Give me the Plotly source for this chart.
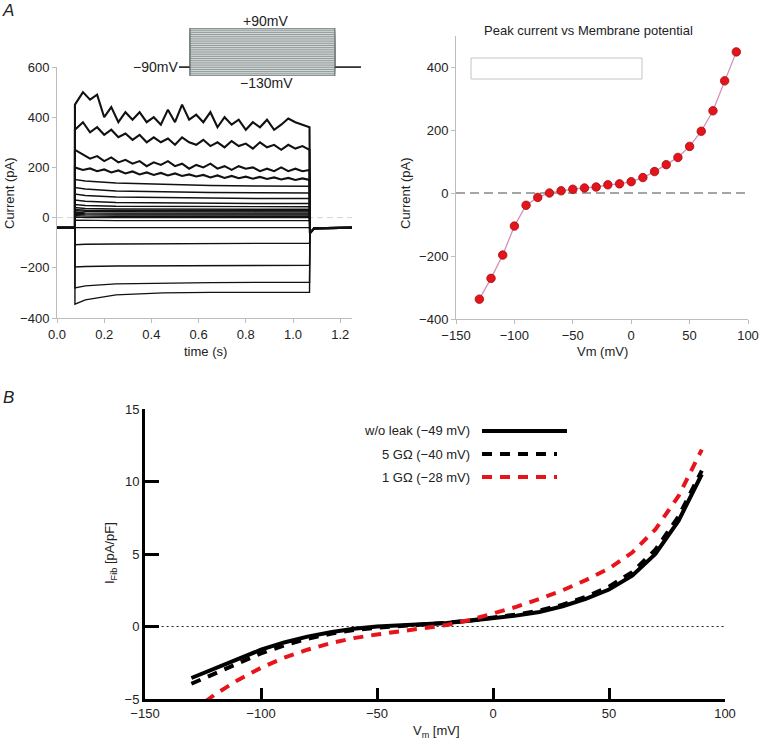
import numpy as np
import plotly.graph_objects as go

W, H = 760, 743
def px(x): return x / W
def py(y): return 1 - y / H

FONT = "Liberation Sans, Arial, sans-serif"

# ---------------- Panel A (left): current traces ----------------
step_mV = [-130, -120, -110, -100, -90, -80, -70, -60, -50, -40, -30, -20,
           -10, 0, 10, 20, 30, 40, 50, 60, 70, 80, 90]
hold_pA = -40
t_on, t_off, t_end = 0.076, 1.072, 1.25
tail_t = [1.072, 1.09, 1.25]
tail_pA = [-62, -43, -40]

t_coarse = [0.076, 0.12, 0.25, 0.45, 0.65, 0.85, 1.07]
coarse_pA = {
    -130: [-345, -328, -308, -300, -298, -298, -298],
    -120: [-280, -272, -264, -260, -259, -258, -258],
    -110: [-197, -195, -193, -192, -191, -190, -190],
    -100: [-108, -106, -105, -104, -103, -102, -102],
    -90: [-40, -40, -40, -40, -40, -40, -40],
    -80: [-10, -11, -12, -12, -12, -12, -12],
    -70: [2, 0, 0, 0, 0, 0, 0],
    -60: [8, 6, 5, 5, 5, 5, 5],
    -50: [14, 11, 10, 10, 10, 10, 10],
    -40: [18, 15, 14, 14, 14, 14, 14],
    -30: [22, 19, 18, 18, 18, 18, 18],
    -20: [28, 25, 24, 23, 23, 23, 23],
    -10: [32, 29, 28, 27, 27, 27, 27],
    0: [40, 36, 34, 33, 33, 33, 33],
    10: [52, 48, 45, 44, 43, 43, 43],
    20: [70, 65, 60, 58, 57, 56, 56],
    30: [94, 88, 82, 79, 77, 76, 76],
    40: [120, 114, 106, 102, 100, 99, 98],
    50: [152, 146, 138, 132, 128, 126, 125],
}

t_fine = [0.076, 0.11, 0.14, 0.17, 0.20, 0.23, 0.26, 0.29, 0.32, 0.35, 0.38,
          0.41, 0.44, 0.47, 0.50, 0.53, 0.56, 0.59, 0.62, 0.65, 0.68, 0.71,
          0.74, 0.77, 0.80, 0.83, 0.86, 0.89, 0.92, 0.95, 0.98, 1.01, 1.04, 1.07]
fine_pA = {
    60: [200, 190, 196, 185, 192, 180, 188, 176, 184, 172, 180, 170, 178, 168,
         176, 166, 172, 164, 170, 160, 168, 158, 166, 157, 163, 155, 162, 154,
         160, 152, 158, 150, 156, 150],
    70: [270, 250, 235, 245, 225, 240, 220, 230, 215, 225, 205, 220, 210, 225,
         205, 215, 195, 210, 200, 215, 195, 205, 190, 205, 195, 200, 185, 195,
         185, 200, 185, 195, 185, 190],
    80: [350, 380, 340, 360, 330, 350, 320, 335, 310, 330, 300, 320, 300, 315,
         290, 320, 300, 290, 310, 285, 300, 280, 305, 285, 295, 275, 300, 280,
         290, 270, 290, 275, 285, 270],
    90: [450, 500, 470, 490, 400, 440, 380, 420, 390, 420, 380, 400, 370, 430,
         380, 450, 390, 410, 380, 420, 360, 400, 370, 390, 350, 380, 360, 390,
         350, 370, 395, 380, 370, 360],
}

# ---------------- Panel A (right): I-V ----------------
iv_mV = [-130, -120, -110, -100, -90, -80, -70, -60, -50, -40, -30, -20,
         -10, 0, 10, 20, 30, 40, 50, 60, 70, 80, 90]
iv_pA = [-337, -271, -197, -105, -39, -14, 0, 7, 12, 16, 19, 26,
         29, 36, 49, 68, 90, 113, 148, 196, 261, 356, 448]

# ---------------- Panel B: model I-V ----------------
vm_B = [-130, -120, -110, -100, -90, -80, -70, -60, -50, -40, -30, -20,
        -10, 0, 10, 20, 30, 40, 50, 60, 70, 80, 90]
i_noleak = [-3.55, -2.9, -2.2, -1.6, -1.1, -0.7, -0.4, -0.15, 0.0, 0.07, 0.15,
            0.25, 0.4, 0.55, 0.75, 1.0, 1.4, 1.9, 2.55, 3.5, 5.0, 7.3, 10.5]
i_5G = [-3.95, -3.25, -2.5, -1.85, -1.3, -0.85, -0.5, -0.25, -0.08, 0.02, 0.12,
        0.25, 0.42, 0.6, 0.82, 1.1, 1.5, 2.05, 2.75, 3.75, 5.3, 7.6, 10.75]
i_1G = [-5.9, -4.7, -3.7, -2.85, -2.15, -1.6, -1.15, -0.8, -0.55, -0.35, -0.12,
        0.1, 0.45, 0.9, 1.35, 1.9, 2.5, 3.2, 4.0, 5.1, 6.7, 9.0, 12.2]
legend_B = ["w/o leak (\u221249 mV)", "5 G\u03a9 (\u221240 mV)", "1 G\u03a9 (\u221228 mV)"]

fig = go.Figure()

# left traces
for v in step_mV:
    if v in fine_pA:
        tt, vals, lw = t_fine, fine_pA[v], 2.1
    else:
        tt, vals, lw = t_coarse, coarse_pA[v], 1.4
    x = [0.0, t_on] + list(tt) + tail_t
    y = [hold_pA, hold_pA] + list(vals) + tail_pA
    fig.add_trace(go.Scatter(x=x, y=y, mode="lines", line=dict(color="#111", width=lw),
                             xaxis="x", yaxis="y", showlegend=False, hoverinfo="skip"))

# protocol inset
inset_t = [0.0, 0.075, 0.075, 1.07, 1.07, 1.25]
for v in step_mV:
    fig.add_trace(go.Scatter(x=inset_t, y=[-90, -90, v, v, -90, -90], mode="lines",
                             line=dict(color="#7d8886", width=0.8),
                             xaxis="x4", yaxis="y4", showlegend=False, hoverinfo="skip"))
fig.add_trace(go.Scatter(x=[0.0, 0.075, None, 1.07, 1.25], y=[-90, -90, None, -90, -90],
                         mode="lines", line=dict(color="#333", width=1.5),
                         xaxis="x4", yaxis="y4", showlegend=False, hoverinfo="skip"))

# right IV
fig.add_trace(go.Scatter(x=iv_mV, y=iv_pA, mode="lines+markers",
                         line=dict(color="#d58fb8", width=1.3),
                         marker=dict(color="#e3141b", size=8.5, line=dict(color="#a30d10", width=0.8)),
                         xaxis="x2", yaxis="y2", showlegend=False, hoverinfo="skip"))

# panel B curves
fig.add_trace(go.Scatter(x=vm_B, y=i_noleak, mode="lines", line=dict(color="black", width=4),
                         xaxis="x3", yaxis="y3", showlegend=False, hoverinfo="skip"))
fig.add_trace(go.Scatter(x=vm_B, y=i_5G, mode="lines", line=dict(color="black", width=4, dash="10px,8px"),
                         xaxis="x3", yaxis="y3", showlegend=False, hoverinfo="skip"))
fig.add_trace(go.Scatter(x=vm_B, y=i_1G, mode="lines", line=dict(color="#e8141b", width=4, dash="10px,8px"),
                         xaxis="x3", yaxis="y3", showlegend=False, hoverinfo="skip"))

tickfont = dict(family=FONT, size=13, color="#222")
grayax = dict(showline=True, linecolor="#bdbdbd", linewidth=1, ticks="outside",
              tickcolor="#bdbdbd", ticklen=4, showgrid=False, zeroline=False,
              tickfont=tickfont, automargin=False)
blackax = dict(showline=True, linecolor="black", linewidth=3, ticks="inside",
               tickcolor="black", tickwidth=3, showgrid=False, zeroline=False,
               tickfont=tickfont, automargin=False)

fig.update_layout(
    width=W, height=H, margin=dict(l=0, r=0, t=0, b=0, pad=0, autoexpand=False),
    paper_bgcolor="white", plot_bgcolor="rgba(0,0,0,0)",
    font=dict(family=FONT, size=13, color="#222"),
    xaxis=dict(domain=[px(57), px(352)], range=[0, 1.25], tickvals=[0, 0.2, 0.4, 0.6, 0.8, 1.0, 1.2],
               tickformat=".1f", anchor="y", **grayax),
    yaxis=dict(domain=[py(318), py(67)], range=[-400, 600], tickvals=[-400, -200, 0, 200, 400, 600],
               anchor="x", **grayax),
    xaxis2=dict(domain=[px(456), px(748)], range=[-150, 100], tickvals=[-150, -100, -50, 0, 50, 100],
                anchor="y2", **grayax),
    yaxis2=dict(domain=[py(319), py(35.5)], range=[-400, 500], tickvals=[-400, -200, 0, 200, 400],
                anchor="x2", **grayax),
    xaxis3=dict(domain=[px(145), px(725)], range=[-150, 100], tickvals=[-150, -100, -50, 0, 50, 100],
                ticklen=11, anchor="y3", **blackax),
    yaxis3=dict(domain=[py(699), py(409)], range=[-5, 15], tickvals=[-5, 0, 5, 10, 15],
                ticklen=14, anchor="x3", **blackax),
    xaxis4=dict(domain=[px(179), px(361)], range=[0, 1.25], visible=False, anchor="y4", automargin=False),
    yaxis4=dict(domain=[py(76), py(28)], range=[-130, 90], visible=False, anchor="x4", automargin=False),
)

shapes = [
    # inset box fill
    dict(type="rect", xref="x4", yref="y4", x0=0.075, x1=1.07, y0=-130, y1=90,
         fillcolor="#d3d9d8", line=dict(color="#5a6261", width=1), layer="below"),
    # zero lines
    dict(type="line", xref="x domain", yref="y", x0=0, x1=1, y0=0, y1=0,
         line=dict(color="#d4d4d4", width=1, dash="6px,4px"), layer="below"),
    dict(type="line", xref="x2 domain", yref="y2", x0=0, x1=1, y0=0, y1=0,
         line=dict(color="#888", width=1.3, dash="9px,5px"), layer="below"),
    dict(type="line", xref="x3 domain", yref="y3", x0=0.02, x1=1, y0=0, y1=0,
         line=dict(color="#222", width=1, dash="2px,3px"), layer="below"),
    # empty legend box in IV plot
    dict(type="rect", xref="paper", yref="paper", x0=px(471), x1=px(642), y0=py(79), y1=py(58),
         fillcolor="white", line=dict(color="#c4c4c4", width=1)),
    # panel B legend samples
    dict(type="line", xref="paper", yref="paper", x0=px(482), x1=px(567), y0=py(431), y1=py(431),
         line=dict(color="black", width=4)),
    dict(type="line", xref="paper", yref="paper", x0=px(482), x1=px(557), y0=py(454), y1=py(454),
         line=dict(color="black", width=4, dash="10px,8px")),
    dict(type="line", xref="paper", yref="paper", x0=px(482), x1=px(557), y0=py(477), y1=py(477),
         line=dict(color="#e8141b", width=4, dash="10px,8px")),
]
fig.update_layout(shapes=shapes)

def ann(text, x, y, size=13, xanchor="center", angle=0, italic=False, color="#222"):
    return dict(text=text, x=px(x), y=py(y), xref="paper", yref="paper", showarrow=False,
                xanchor=xanchor, yanchor="middle", textangle=angle,
                font=dict(family=FONT, size=size, color=color,
                          style="italic" if italic else "normal"))

annotations = [
    ann("A", 8, 10, size=17, italic=True),
    ann("B", 8, 397, size=17, italic=True),
    ann("+90mV", 265, 21, size=14),
    ann("\u221290mV", 180, 67, size=14, xanchor="right"),
    ann("\u2212130mV", 266, 83, size=14),
    ann("Current (pA)", 9, 193, angle=-90),
    ann("time (s)", 205, 352),
    ann("Peak current vs Membrane potential", 588, 30, size=13),
    ann("Current (pA)", 405, 193, angle=-90),
    ann("Vm (mV)", 602, 352),
    ann("I<sub>Fib</sub> [pA/pF]", 110, 553, angle=-90),
    ann("V<sub>m</sub> [mV]", 437, 731),
    ann(legend_B[0], 472, 431, xanchor="right"),
    ann(legend_B[1], 472, 454, xanchor="right"),
    ann(legend_B[2], 472, 477, xanchor="right"),
]
fig.update_layout(annotations=annotations)

fig.write_html("out.html", config={"displayModeBar": False},
               post_script="document.body.style.margin='0px';document.body.style.overflow='hidden';")
